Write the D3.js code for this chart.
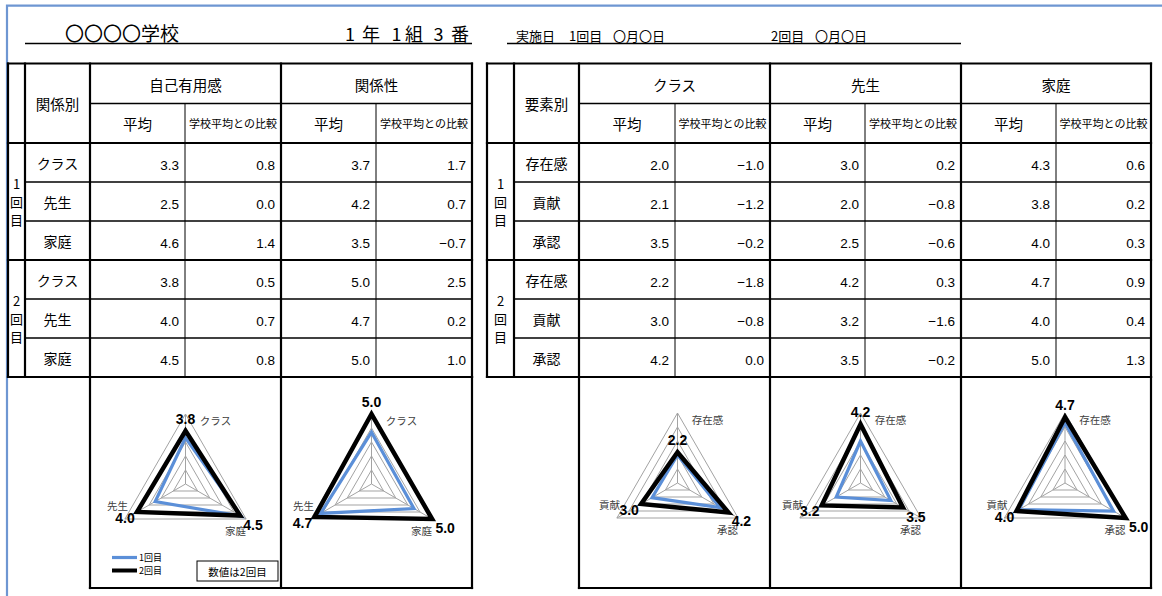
<!DOCTYPE html>
<html>
<head>
<meta charset="utf-8">
<script src="https://cdn.jsdelivr.net/npm/d3@7"></script>
<style>
  body { margin: 0; background: #fff; }
  svg { display: block; }
</style>
</head>
<body>
<svg id="sheet" width="1162" height="596"></svg>
<script>
// ---- data ----------------------------------------------------------
const rounds = ["1回目", "2回目"];
const subHeaders = ["平均", "学校平均との比較"];

// 関係別 table: rows are クラス / 先生 / 家庭
const relationRows = ["クラス", "先生", "家庭"];
const relationMeasures = ["自己有用感", "関係性"];
const selfUsefulAvg1 = [3.3, 2.5, 4.6];
const selfUsefulDiff1 = [0.8, 0.0, 1.4];
const selfUsefulAvg2 = [3.8, 4.0, 4.5];
const selfUsefulDiff2 = [0.5, 0.7, 0.8];
const relationAvg1 = [3.7, 4.2, 3.5];
const relationDiff1 = [1.7, 0.7, -0.7];
const relationAvg2 = [5.0, 4.7, 5.0];
const relationDiff2 = [2.5, 0.2, 1.0];

// 要素別 table: rows are 存在感 / 貢献 / 承認
const elementRows = ["存在感", "貢献", "承認"];
const elementTargets = ["クラス", "先生", "家庭"];
const classAvg1 = [2.0, 2.1, 3.5];
const classDiff1 = [-1.0, -1.2, -0.2];
const classAvg2 = [2.2, 3.0, 4.2];
const classDiff2 = [-1.8, -0.8, 0.0];
const teacherAvg1 = [3.0, 2.0, 2.5];
const teacherDiff1 = [0.2, -0.8, -0.6];
const teacherAvg2 = [4.2, 3.2, 3.5];
const teacherDiff2 = [0.3, -1.6, -0.2];
const homeAvg1 = [4.3, 3.8, 4.0];
const homeDiff1 = [0.6, 0.2, 0.3];
const homeAvg2 = [4.7, 4.0, 5.0];
const homeDiff2 = [0.9, 0.4, 1.3];

const scaleMax = 5;
const gridLevels = [1, 2, 3, 4, 5];

// ---- styling -------------------------------------------------------
const JP = "'Noto Sans CJK JP', 'Noto Sans', sans-serif";
const NUM = "'Liberation Sans', Arial, sans-serif";
const BLUE = "#5b8fd8";
const GRID = "#a3a3a3";
const fmt = d3.format(".1f");

const svg = d3.select("#sheet");
svg.append("rect").attr("width", 1162).attr("height", 596).attr("fill", "#fff");

// sheet frame
svg.append("path")
  .attr("d", "M7,596V5.6H1162")
  .attr("fill", "none").attr("stroke", "#6e96d2").attr("stroke-width", 2.2);

// ---- heading -------------------------------------------------------
const head = svg.append("g").style("font-family", JP).attr("fill", "#000");
head.append("text").attr("x", 65).attr("y", 41).style("font-size", "19px").text("〇〇〇〇学校");

// 1 年 1 組 3 番, spaced out as in the form header
const classParts = [
  { x: 350, t: "1" }, { x: 371, t: "年" }, { x: 396.5, t: "1" },
  { x: 414, t: "組" }, { x: 438.5, t: "3" }, { x: 460, t: "番" }
];
head.selectAll("text.cls").data(classParts).join("text")
  .attr("class", "cls").attr("x", d => d.x).attr("y", 41).attr("text-anchor", "middle")
  .style("font-size", "18px").text(d => d.t);
head.append("line").attr("x1", 25).attr("x2", 472).attr("y1", 43.5).attr("y2", 43.5)
  .attr("stroke", "#000").attr("stroke-width", 1.3);

const dateParts = [
  { x: 516, t: "実施日" }, { x: 569, t: "1回目" }, { x: 613, t: "〇月〇日" },
  { x: 771, t: "2回目" }, { x: 815, t: "〇月〇日" }
];
head.selectAll("text.date").data(dateParts).join("text")
  .attr("class", "date").attr("x", d => d.x).attr("y", 41)
  .style("font-size", "13px").text(d => d.t);
head.append("line").attr("x1", 507).attr("x2", 961).attr("y1", 43.5).attr("y2", 43.5)
  .attr("stroke", "#000").attr("stroke-width", 1.3);

// ---- tables --------------------------------------------------------
const rowY = [63.5, 103.5, 143, 182, 221, 260, 299, 338, 377];
const boxBottom = 588;
const THICK = 2.2, THIN_H = 1.3, THIN_V = 1;

function drawTable(cols, corner, groups, rowLabels, avg, diff) {
  const g = svg.append("g");
  const lines = [];
  const first = cols[0], last = cols[cols.length - 1];
  // horizontal rules
  lines.push({ x1: first, x2: last, y1: rowY[0], y2: rowY[0], w: THICK });
  lines.push({ x1: cols[2], x2: last, y1: rowY[1], y2: rowY[1], w: THIN_H });
  lines.push({ x1: first, x2: last, y1: rowY[2], y2: rowY[2], w: THICK });
  for (let k = 3; k < rowY.length; k++) {
    const groupEdge = (k - 2) % 3 === 0;
    lines.push({ x1: groupEdge ? first : cols[1], x2: last, y1: rowY[k], y2: rowY[k], w: groupEdge ? THICK : THIN_H });
  }
  // vertical rules
  cols.forEach((x, j) => {
    const inner = j >= 3 && (j - 2) % 2 === 1;
    lines.push({ x1: x, x2: x, y1: inner ? rowY[1] : rowY[0], y2: rowY[8], w: inner ? THIN_V : THICK });
  });
  // chart boxes under the value columns
  for (let j = 2; j < cols.length; j += 2) {
    lines.push({ x1: cols[j], x2: cols[j], y1: rowY[8], y2: boxBottom, w: THICK });
  }
  lines.push({ x1: cols[2], x2: last, y1: boxBottom, y2: boxBottom, w: THICK });

  g.selectAll("line").data(lines).join("line")
    .attr("x1", d => d.x1).attr("x2", d => d.x2).attr("y1", d => d.y1).attr("y2", d => d.y2)
    .attr("stroke", "#000").attr("stroke-width", d => d.w).attr("stroke-linecap", "square");

  const txt = g.append("g").style("font-family", JP).attr("fill", "#000");
  // corner header
  txt.append("text").attr("x", (cols[1] + cols[2]) / 2).attr("y", rowY[1])
    .attr("text-anchor", "middle").attr("dominant-baseline", "central")
    .style("font-size", "14.5px").text(corner);
  // group headers and sub headers
  groups.forEach((name, gi) => {
    const a = cols[2 + 2 * gi], b = cols[3 + 2 * gi], c = cols[4 + 2 * gi];
    txt.append("text").attr("x", (a + c) / 2).attr("y", (rowY[0] + rowY[1]) / 2 + 0.5)
      .attr("text-anchor", "middle").attr("dominant-baseline", "central")
      .style("font-size", "14.5px").text(name);
    txt.append("text").attr("x", (a + b) / 2).attr("y", (rowY[1] + rowY[2]) / 2)
      .attr("text-anchor", "middle").attr("dominant-baseline", "central")
      .style("font-size", "14.5px").text(subHeaders[0]);
    txt.append("text").attr("x", (b + c) / 2).attr("y", (rowY[1] + rowY[2]) / 2)
      .attr("text-anchor", "middle").attr("dominant-baseline", "central")
      .style("font-size", "11px").text(subHeaders[1]);
  });
  // round labels, written vertically
  rounds.forEach((rd, ri) => {
    const mid = (rowY[2 + ri * 3] + rowY[5 + ri * 3]) / 2;
    const chars = Array.from(rd);
    chars.forEach((ch, ci) => {
      txt.append("text").attr("x", (cols[0] + cols[1]) / 2).attr("y", mid + (ci - (chars.length - 1) / 2) * 18)
        .attr("text-anchor", "middle").attr("dominant-baseline", "central")
        .style("font-size", "13px").text(ch);
    });
    rowLabels.forEach((lab, i) => {
      const k = ri * 3 + i;
      const cy = (rowY[2 + k] + rowY[3 + k]) / 2;
      txt.append("text").attr("x", (cols[1] + cols[2]) / 2).attr("y", cy)
        .attr("text-anchor", "middle").attr("dominant-baseline", "central")
        .style("font-size", "14px").text(lab);
      groups.forEach((name, gi) => {
        [avg[gi][ri][i], diff[gi][ri][i]].forEach((v, vi) => {
          g.append("text").attr("x", cols[3 + 2 * gi + vi] - 6).attr("y", cy + 7)
            .attr("text-anchor", "end").style("font-family", NUM).style("font-size", "13.5px")
            .text(fmt(v));
        });
      });
    });
  });
}

const leftCols = [8, 25, 90, 185, 281, 376, 472];
const rightCols = [487, 514, 579, 675, 770, 865, 961, 1056, 1151];

const relationAvg = [[selfUsefulAvg1, selfUsefulAvg2], [relationAvg1, relationAvg2]];
const relationDiff = [[selfUsefulDiff1, selfUsefulDiff2], [relationDiff1, relationDiff2]];
const elementAvg = [[classAvg1, classAvg2], [teacherAvg1, teacherAvg2], [homeAvg1, homeAvg2]];
const elementDiff = [[classDiff1, classDiff2], [teacherDiff1, teacherDiff2], [homeDiff1, homeDiff2]];

drawTable(leftCols, "関係別", relationMeasures, relationRows, relationAvg, relationDiff);
drawTable(rightCols, "要素別", elementTargets, elementRows, elementAvg, elementDiff);

// ---- radar charts --------------------------------------------------
const R = 70;
const valueOffsets = [[0, -12], [-12, 6], [13, 9]];
const nameOffsets = [[30, -64], [-68, 21], [50, 46]];

function drawRadar(cx, cy, axisNames, s1, s2) {
  const g = svg.append("g").attr("transform", `translate(${cx},${cy})`);
  const r = d3.scaleLinear().domain([0, scaleMax]).range([0, R]);
  const ang = i => -i * 2 * Math.PI / axisNames.length;
  const radial = d3.lineRadial().angle((d, i) => ang(i)).radius(d => r(d)).curve(d3.curveLinearClosed);

  g.selectAll("path.grid").data(gridLevels).join("path").attr("class", "grid")
    .attr("d", v => radial(axisNames.map(() => v)))
    .attr("fill", "none").attr("stroke", GRID).attr("stroke-width", 1);
  axisNames.forEach((n, i) => {
    const p = d3.pointRadial(ang(i), r(scaleMax));
    g.append("line").attr("x1", 0).attr("y1", 0).attr("x2", p[0]).attr("y2", p[1])
      .attr("stroke", GRID).attr("stroke-width", 1);
  });

  g.append("path").attr("d", radial(s1)).attr("fill", "none")
    .attr("stroke", BLUE).attr("stroke-width", 3.2).attr("stroke-linejoin", "miter");
  g.append("path").attr("d", radial(s2)).attr("fill", "none")
    .attr("stroke", "#000").attr("stroke-width", 4.5).attr("stroke-linejoin", "miter");

  axisNames.forEach((n, i) => {
    g.append("text").attr("x", nameOffsets[i][0]).attr("y", nameOffsets[i][1])
      .attr("text-anchor", "middle").attr("dominant-baseline", "central")
      .style("font-family", JP).style("font-size", "10.5px").attr("fill", "#404040").text(n);
  });
  s2.forEach((v, i) => {
    const p = d3.pointRadial(ang(i), r(v));
    g.append("text").attr("x", p[0] + valueOffsets[i][0]).attr("y", p[1] + valueOffsets[i][1])
      .attr("text-anchor", "middle").attr("dominant-baseline", "central")
      .style("font-family", NUM).style("font-size", "14px").style("font-weight", "bold")
      .attr("fill", "#000").text(fmt(v));
  });
}

const radarY = 484;
const leftShift = [0, -5];
const rightShift = [3, -5, 9];
relationMeasures.forEach((m, gi) => {
  const cx = (leftCols[2 + 2 * gi] + leftCols[4 + 2 * gi]) / 2 + leftShift[gi];
  drawRadar(cx, radarY, relationRows, relationAvg[gi][0], relationAvg[gi][1]);
});
elementTargets.forEach((t, gi) => {
  const cx = (rightCols[2 + 2 * gi] + rightCols[4 + 2 * gi]) / 2 + rightShift[gi];
  drawRadar(cx, radarY - 1, elementRows, elementAvg[gi][0], elementAvg[gi][1]);
});

// ---- legend and note ----------------------------------------------
const legend = svg.append("g").style("font-family", JP).style("font-size", "9px");
rounds.forEach((rd, i) => {
  const y = 557.5 + i * 13;
  legend.append("line").attr("x1", 112).attr("x2", 137).attr("y1", y).attr("y2", y)
    .attr("stroke", i === 0 ? BLUE : "#000").attr("stroke-width", i === 0 ? 3.2 : 4);
  legend.append("text").attr("x", 139).attr("y", y).attr("dominant-baseline", "central").text(rd);
});
svg.append("rect").attr("x", 197).attr("y", 561).attr("width", 81).attr("height", 20)
  .attr("fill", "#fff").attr("stroke", "#000").attr("stroke-width", 1);
svg.append("text").attr("x", 237.5).attr("y", 571).attr("text-anchor", "middle")
  .attr("dominant-baseline", "central").style("font-family", JP).style("font-size", "10.5px")
  .text("数値は2回目");
</script>
</body>
</html>
